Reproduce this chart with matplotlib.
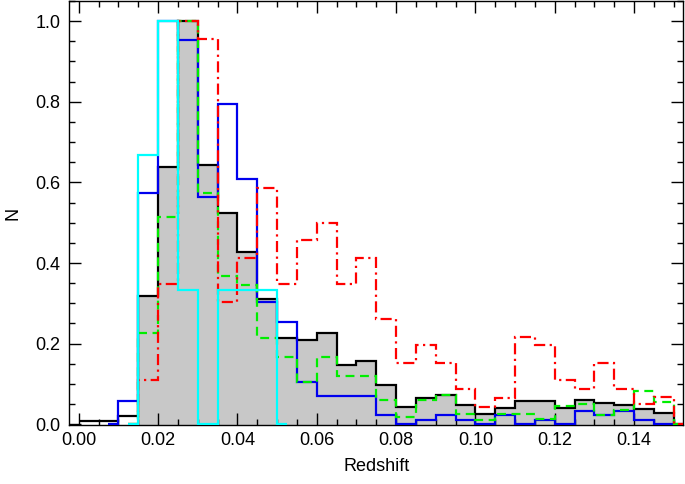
import numpy as np
import matplotlib
matplotlib.use("Agg")
import matplotlib.pyplot as plt
from matplotlib.ticker import MultipleLocator, FormatStrFormatter

plt.rcParams['font.family'] = ['Liberation Sans', 'DejaVu Sans']

# Histogram bins: 0.000 ... 0.150 in steps of 0.005 (30 bins)
bin_width = 0.005
n_bins = 30

black = [0.008, 0.008, 0.021, 0.319, 0.639, 1.000, 0.642, 0.525, 0.428, 0.311,
         0.214, 0.210, 0.227, 0.146, 0.158, 0.097, 0.044, 0.065, 0.073, 0.048,
         0.025, 0.041, 0.057, 0.057, 0.041, 0.061, 0.054, 0.049, 0.039, 0.028]

blue = [0.0, 0.0, 0.058, 0.574, 1.000, 0.954, 0.564, 0.794, 0.609, 0.303,
        0.253, 0.104, 0.069, 0.069, 0.069, 0.022, 0.0, 0.011, 0.022, 0.011,
        0.0, 0.022, 0.0, 0.011, 0.0, 0.034, 0.023, 0.034, 0.011, 0.0]

green = [0.0, 0.0, 0.0, 0.227, 0.513, 1.000, 0.573, 0.369, 0.345, 0.214,
         0.166, 0.106, 0.167, 0.119, 0.119, 0.060, 0.017, 0.060, 0.073, 0.025,
         0.011, 0.025, 0.025, 0.014, 0.046, 0.050, 0.023, 0.035, 0.082, 0.055]

red = [0.0, 0.0, 0.0, 0.109, 0.349, 1.000, 0.956, 0.304, 0.412, 0.587,
       0.348, 0.456, 0.500, 0.348, 0.412, 0.261, 0.152, 0.196, 0.152, 0.087,
       0.043, 0.066, 0.217, 0.196, 0.109, 0.088, 0.153, 0.088, 0.050, 0.067]

cyan = [0.0, 0.0, 0.0, 0.667, 1.000, 0.333, 0.0, 0.333, 0.333, 0.333,
        0.0, 0.0, 0.0, 0.0, 0.0, 0.0, 0.0, 0.0, 0.0, 0.0,
        0.0, 0.0, 0.0, 0.0, 0.0, 0.0, 0.0, 0.0, 0.0, 0.0]

xticks = [0.00, 0.02, 0.04, 0.06, 0.08, 0.10, 0.12, 0.14]
yticks = [0.0, 0.2, 0.4, 0.6, 0.8, 1.0]

edges = np.arange(n_bins + 1) * bin_width


def segment(vals, lo, hi):
    vals = np.asarray(vals, dtype=float)
    inner = edges[(edges > lo + 1e-9) & (edges < hi - 1e-9)]
    e = np.concatenate([[lo], inner, [hi]])
    mids = (e[:-1] + e[1:]) / 2
    idx = np.floor(mids / bin_width + 1e-9).astype(int)
    ok = (idx >= 0) & (idx < len(vals))
    v = np.where(ok, vals[np.clip(idx, 0, len(vals) - 1)], 0.0)
    return v, e


fig = plt.figure(figsize=(6.85, 4.84), dpi=100)
ax = fig.add_axes([0.1007, 0.1209, 0.8968, 0.877])

# gray filled histogram
fv, fe = segment(black, 0.015, 0.150)
ax.stairs(fv, fe, baseline=-0.01, fill=True, color='#c8c8c8', lw=0, zorder=1)

lw = 1.6
v, e = segment(black, 0.0, 0.1525)
ax.stairs(v, e, baseline=None, color='black', lw=lw, zorder=2)
v, e = segment(blue, 0.0075, 0.150)
ax.stairs(v, e, baseline=None, color='#0000ee', lw=lw, zorder=3)
v, e = segment(green, 0.0125, 0.1525)
ax.stairs(v, e, baseline=None, color='#00ee00', lw=lw, ls=(0, (4, 2.5)), zorder=4)
v, e = segment(red, 0.0125, 0.1525)
ax.stairs(v, e, baseline=None, color='#ff0000', lw=lw, ls=(0, (5, 2, 1, 2)), zorder=5)
v, e = segment(cyan, 0.0125, 0.0525)
ax.stairs(v, e, baseline=None, color='#00ffff', lw=lw, zorder=6)

ax.set_xlim(-0.00245, 0.1524)
ax.set_ylim(-0.003, 1.05)

ax.set_xticks(xticks)
ax.set_yticks(yticks)
ax.xaxis.set_major_formatter(FormatStrFormatter('%.2f'))
ax.yaxis.set_major_formatter(FormatStrFormatter('%.1f'))
ax.xaxis.set_minor_locator(MultipleLocator(0.005))
ax.yaxis.set_minor_locator(MultipleLocator(0.05))
ax.tick_params(which='both', direction='in', top=True, right=True, width=1.0,
               labelsize=13)
ax.tick_params(which='major', length=8.6)
ax.tick_params(which='minor', length=4.3)
ax.tick_params(axis='x', pad=5)
ax.tick_params(axis='y', pad=6)
for s in ax.spines.values():
    s.set_linewidth(1.0)

ax.set_xlabel('Redshift', fontsize=13, labelpad=6)
ax.set_ylabel('N', fontsize=13, labelpad=10)

fig.savefig('out.png', dpi=100)
